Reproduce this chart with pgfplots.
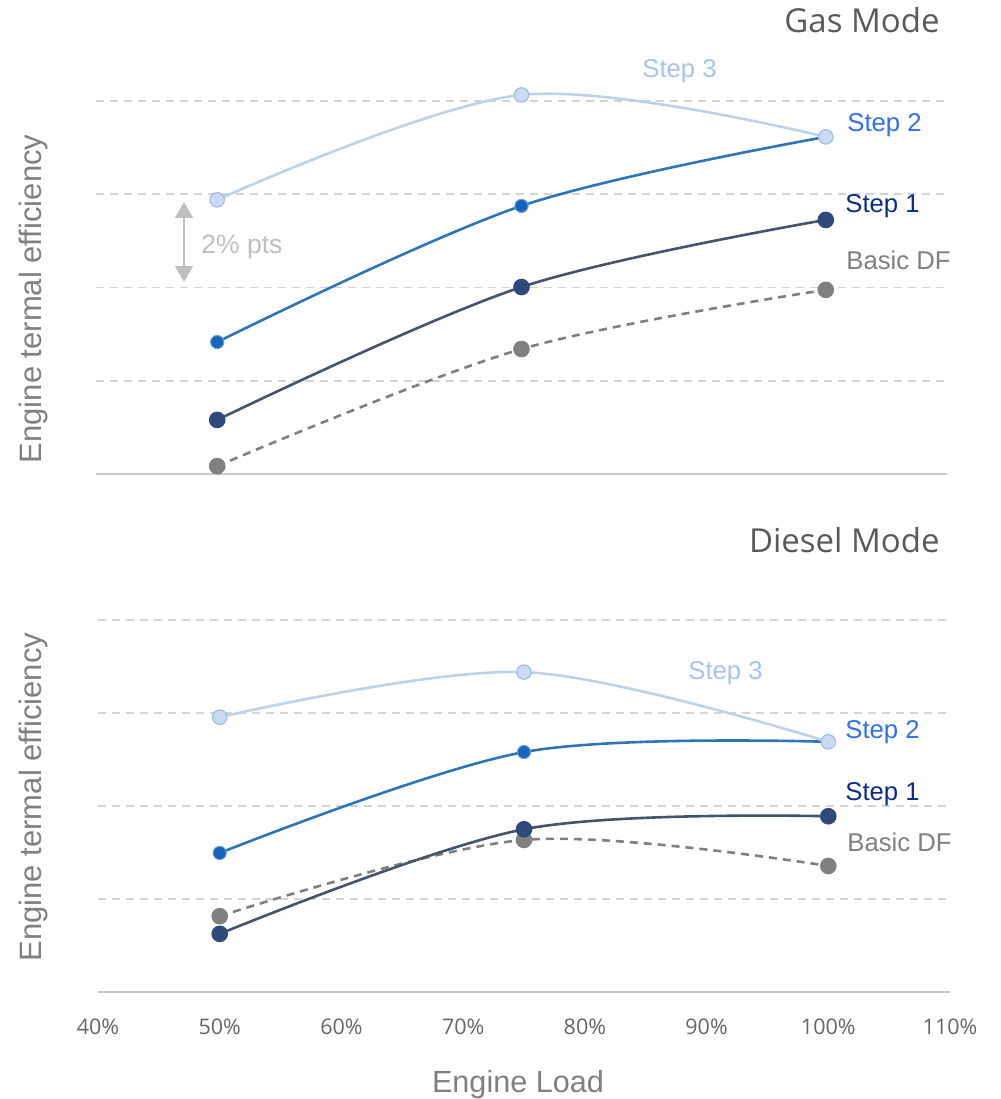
\documentclass[border=0pt]{standalone}
\usepackage{fontspec}
\setmainfont{Liberation Sans}
\newfontfamily\osans{Open Sans}
\usepackage{pgfplots}
\pgfplotsset{compat=1.18}
\usetikzlibrary{arrows.meta}
\definecolor{gridgray}{HTML}{D3D3D3}
\definecolor{axisgray}{HTML}{C8C8C8}
\definecolor{tickgray}{HTML}{666666}
\definecolor{labelgray}{HTML}{808080}
\definecolor{titlegray}{HTML}{595959}
\definecolor{arrowgray}{HTML}{BFBFBF}
\definecolor{sthreeline}{HTML}{BCD2E8}
\definecolor{sthreefill}{HTML}{C9DAF2}
\definecolor{sthreeedge}{HTML}{9FBDE3}
\definecolor{stwoline}{HTML}{2E75B6}
\definecolor{stwofill}{HTML}{1565C0}
\definecolor{soneline}{HTML}{44546A}
\definecolor{sonefill}{HTML}{2F4A7A}
\definecolor{basicline}{HTML}{7F7F7F}
\definecolor{basicfill}{HTML}{808080}
\definecolor{tthree}{HTML}{A4C2F4}
\definecolor{ttwo}{HTML}{2F6FF0}
\definecolor{tone}{HTML}{0B2C8F}
\definecolor{tbasic}{HTML}{7F7F7F}
\newcommand\pp[2]{({#1*0.5pt},{(1099-#2)*0.5pt})}
\pgfplotsset{
  panel/.style={
    scale only axis, width=426pt, height=186pt,
    xmin=40, xmax=110, ymin=0, ymax=8,
    axis x line=bottom, axis y line=left,
    axis line style={-},
    y axis line style={draw=none},
    x axis line style={draw=axisgray, line width=0.9pt},
    ytick={2,4,6,8}, yticklabels={},
    ymajorgrids,
    grid style={draw=gridgray, line width=0.8pt, dash pattern=on 4pt off 3pt},
    major tick length=0pt,
    xtick={40,50,...,110},
    clip=false,
    anchor=south west,
  },
  s3/.style={sthreeline, line width=1.3pt, smooth, tension=0.55, mark=*, mark size=3.6pt, mark options={fill=sthreefill, draw=sthreeedge, line width=0.6pt, solid}},
  s2/.style={stwoline, line width=1.3pt, smooth, tension=0.55, mark=*, mark size=3.3pt, mark options={fill=stwofill, draw=stwoline!70!white, line width=0.5pt, solid}},
  s1/.style={soneline, line width=1.3pt, smooth, tension=0.55, mark=*, mark size=3.5pt, mark options={fill=sonefill, draw=sonefill, solid}},
  sb/.style={basicline, line width=1.3pt, dash pattern=on 4pt off 3pt, smooth, tension=0.55, mark=*, mark size=3.5pt, mark options={fill=basicfill, draw=basicfill, solid}},
}
\begin{document}
\begin{tikzpicture}
\useasboundingbox (0,0) rectangle (500.5pt,549.5pt);
% ---------- Gas mode ----------
\begin{axis}[panel, at={(47.75pt,312.5pt)}, height=186.5pt, xticklabels={}]
\addplot[sb] coordinates {(50,0.17) (75,2.68) (100,3.95)};
\addplot[s1] coordinates {(50,1.16) (75,4.01) (100,5.45)};
\addplot[s2] coordinates {(50,2.83) (75,5.75) (100,7.23)};
\addplot[s3] coordinates {(50,5.88) (75,8.13) (100,7.23)};
\end{axis}
% ---------- Diesel mode ----------
\begin{axis}[panel, at={(49pt,53.5pt)}, height=186pt,
  xticklabels={40\%,50\%,60\%,70\%,80\%,90\%,100\%,110\%},
  xticklabel style={font=\osans\fontsize{10.75}{12}\selectfont, text=tickgray, anchor=base, yshift=-21.5pt}]
\addplot[sb] coordinates {(50,1.63) (75,3.27) (100,2.71)};
\addplot[s1] coordinates {(50,1.25) (75,3.50) (100,3.78)};
\addplot[s2] coordinates {(50,2.99) (75,5.16) (100,5.38)};
\addplot[s3] coordinates {(50,5.91) (75,6.88) (100,5.38)};
\end{axis}
% ---------- texts ----------
\node[anchor=base east, font=\osans\fontsize{16.5}{18}\selectfont, text=titlegray, inner sep=0pt] at \pp{940}{33} {Gas Mode};
\node[anchor=base east, font=\osans\fontsize{16.5}{18}\selectfont, text=titlegray, inner sep=0pt] at \pp{940}{553} {Diesel Mode};
\node[rotate=90, font=\fontsize{15.5}{17}\selectfont, text=labelgray, inner sep=0pt] at \pp{33}{299} {Engine termal efficiency};
\node[rotate=90, font=\fontsize{15.5}{17}\selectfont, text=labelgray, inner sep=0pt] at \pp{33}{797} {Engine termal efficiency};
\node[anchor=base, font=\fontsize{15.3}{17}\selectfont, text=labelgray, inner sep=0pt] at \pp{518}{1093} {Engine Load};
% step labels gas
\node[anchor=base west, font=\fontsize{12.85}{14}\selectfont, text=tthree, inner sep=0pt] at \pp{642}{78} {Step 3};
\node[anchor=base west, font=\fontsize{12.85}{14}\selectfont, text=ttwo, inner sep=0pt] at \pp{847}{132} {Step 2};
\node[anchor=base west, font=\fontsize{12.85}{14}\selectfont, text=tone, inner sep=0pt] at \pp{845}{213} {Step 1};
\node[anchor=base west, font=\fontsize{12.85}{14}\selectfont, text=tbasic, inner sep=0pt] at \pp{846}{270} {Basic DF};
% step labels diesel
\node[anchor=base west, font=\fontsize{12.85}{14}\selectfont, text=tthree, inner sep=0pt] at \pp{688}{680} {Step 3};
\node[anchor=base west, font=\fontsize{12.85}{14}\selectfont, text=ttwo, inner sep=0pt] at \pp{845}{739} {Step 2};
\node[anchor=base west, font=\fontsize{12.85}{14}\selectfont, text=tone, inner sep=0pt] at \pp{845}{801} {Step 1};
\node[anchor=base west, font=\fontsize{12.85}{14}\selectfont, text=tbasic, inner sep=0pt] at \pp{847}{852} {Basic DF};
% 2% pts arrow
\draw[arrowgray, line width=1pt, {Triangle[width=9pt,length=8pt]}-{Triangle[width=9pt,length=8pt]}] \pp{184}{202} -- \pp{184}{282};
\node[anchor=base west, font=\fontsize{13.25}{15}\selectfont, text=arrowgray, inner sep=0pt] at \pp{201}{254} {2\% pts};
\end{tikzpicture}
\end{document}
